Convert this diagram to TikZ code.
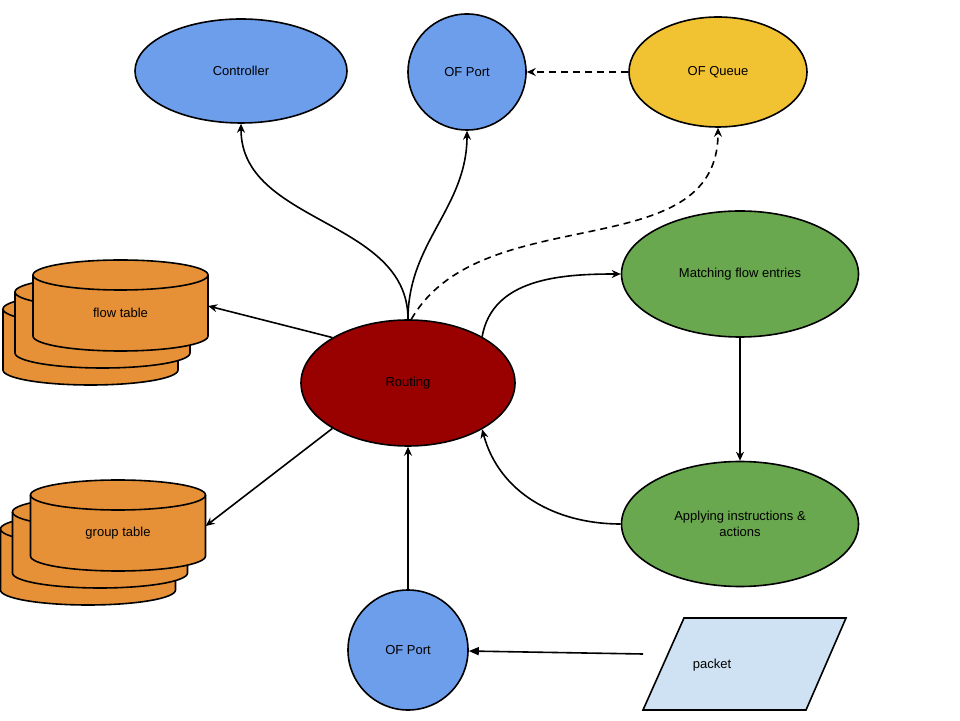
\documentclass[tikz,border=0pt]{standalone}
\usepackage{fontspec}
\setmainfont{Liberation Sans}
\usepackage{tikz}
\usetikzlibrary{shapes.geometric}
\usetikzlibrary{arrows.meta}

\definecolor{portblue}{HTML}{6D9EEB}
\definecolor{queueyellow}{HTML}{F1C232}
\definecolor{flowgreen}{HTML}{6AA84F}
\definecolor{routered}{HTML}{990000}
\definecolor{tableorange}{HTML}{E69138}
\definecolor{packetblue}{HTML}{CFE2F3}

\begin{document}
\begin{tikzpicture}[x=1pt, y=1pt,
    every node/.style={font=\fontsize{13}{15.6}\selectfont},
    oval/.style={ellipse, draw, line width=1.6pt, inner sep=0pt},
    tbl/.style={draw, fill=tableorange, line width=1.6pt},
    link/.style={line width=1.6pt, -{Stealth[length=9pt, width=8pt, inset=3pt]}},
    dashlink/.style={link, dash pattern=on 7pt off 5pt},
    pktlink/.style={line width=1.6pt, -{Triangle[length=10pt, width=8pt]}}]
            \useasboundingbox (0,0) rectangle (960,720);
            %% 定义tablecyl命令: #1 中心x, #2 顶面椭圆中心y
            \newcommand{\tablecyl}[2]{
                \filldraw[tbl] (#1-87.5, #2) -- (#1-87.5, #2-61)
                    arc[start angle=180, end angle=360, x radius=87.5, y radius=15]
                    -- (#1+87.5, #2)
                    arc[start angle=0, end angle=180, x radius=87.5, y radius=15]
                    -- cycle;
                \draw[tbl, fill=none] (#1-87.5, #2)
                    arc[start angle=180, end angle=360, x radius=87.5, y radius=15];
            }
            %% 定义tablestack命令: 三层叠放的表
            \newcommand{\tablestack}[4]{
                \tablecyl{#2-30}{#3-34}
                \tablecyl{#2-18}{#3-17}
                \tablecyl{#2}{#3}
                \node[minimum width=175pt, minimum height=76pt, inner sep=0pt] (#1) at (#2, #3-38) {#4};
            }

            %% 一系列的节点
            \node[oval, fill=portblue, minimum width=212pt, minimum height=104pt] (ctl) at (241,649) {Controller};
            \node[oval, fill=portblue, minimum width=118pt, minimum height=116pt] (portA) at (467,648) {OF Port};
            \node[oval, fill=queueyellow, minimum width=178pt, minimum height=110pt] (queue) at (718,648) {OF Queue};
            \node[oval, fill=flowgreen, minimum width=237pt, minimum height=126pt] (match) at (740,446) {Matching flow entries};
            \node[oval, fill=flowgreen, minimum width=237pt, minimum height=125pt, align=center] (apply) at (740,196) {Applying instructions \&\\actions};
            \node[oval, fill=routered, minimum width=214pt, minimum height=126pt] (route) at (408,337) {Routing};
            \node[oval, fill=portblue, minimum width=120pt, minimum height=120pt] (portB) at (408,70) {OF Port};

            %% 表
            \tablestack{flowtbl}{120.5}{445}{flow table}
            \tablestack{grptbl}{118}{225}{group table}

            %% 数据包
            \filldraw[fill=packetblue, line width=1.6pt] (643,10) -- (806,10) -- (846,102) -- (684,102) -- cycle;
            \node (pkt) at (712,55) {packet};
            \coordinate (pktout) at (643,66);

            %% 一系列的连线
            \draw[link] (route.north) to[out=90, in=-90] (ctl.south);
            \draw[link] (route.north) to[out=90, in=-90] (portA.south);
            \draw[dashlink] (route.87) to[out=60, in=-90] (queue.south);
            \draw[dashlink] (queue.west) -- (portA.east);
            \draw[link] (route.32) to[out=80, in=180] (match.west);
            \draw[link] (match.south) -- (apply.north);
            \draw[link] (apply.west) to[out=180, in=-75] (route.-32);
            \draw[link] (portB.north) -- (route.south);
            \draw[link] (route.149) -- ([yshift=7pt]flowtbl.east);
            \draw[link] (route.211) -- ([yshift=7pt]grptbl.east);
            \draw[pktlink] (pktout) -- (portB);
        \end{tikzpicture}
\end{document}
